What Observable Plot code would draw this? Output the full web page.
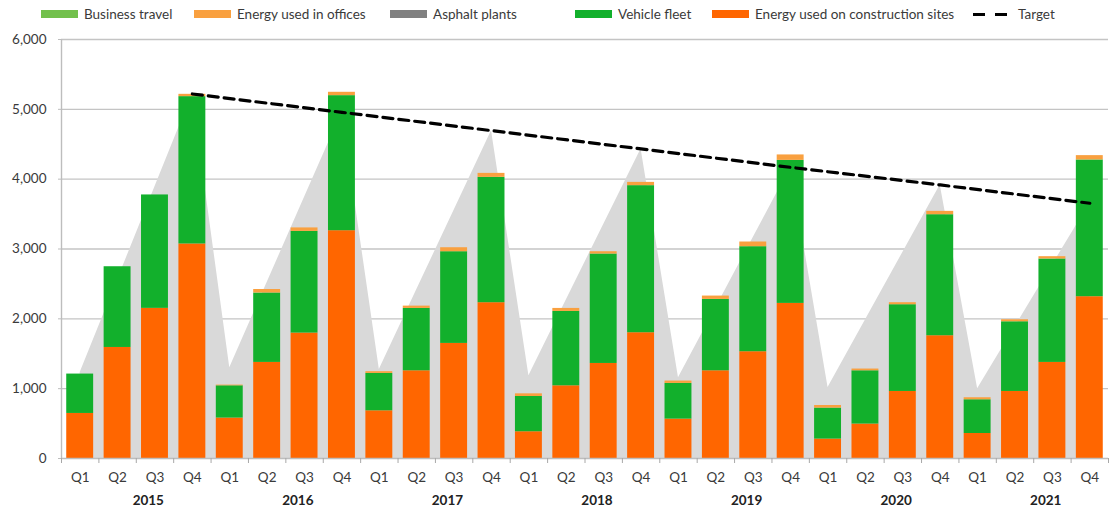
<!DOCTYPE html>
<html>
<head>
<meta charset="utf-8">
<script src="https://cdn.jsdelivr.net/npm/d3@7"></script>
<script src="https://cdn.jsdelivr.net/npm/@observablehq/plot@0.6"></script>
<style>
  body { margin: 0; background: #fff; font-family: Lato, "Open Sans", sans-serif; }
  #legend { position: relative; height: 28px; font-size: 13.5px; color: #3a3a3a; }
  .item { position: absolute; top: 6px; display: flex; align-items: center; white-space: nowrap; }
  .sw { width: 37px; height: 8px; margin-right: 6px; }
  .dash { width: 38px; height: 3px; margin-right: 7px;
          background: repeating-linear-gradient(90deg, #000 0 12px, transparent 12px 22px); }
</style>
</head>
<body>
<div id="legend"></div>
<div id="chart"></div>
<script>
// ---------- data ----------
const years = ["2015", "2016", "2017", "2018", "2019", "2020", "2021"];
const quarters = ["Q1", "Q2", "Q3", "Q4"];
const seriesNames = ["Energy used on construction sites", "Vehicle fleet", "Asphalt plants", "Energy used in offices", "Business travel"];
const seriesColors = ["#ff6600", "#12b02c", "#808080", "#f9a03f", "#72c04c"];

const construction = [645, 1590, 2150, 3072, 579, 1376, 1796, 3262, 683, 1256, 1648, 2231, 383, 1041, 1361, 1801, 564, 1256, 1529, 2221, 278, 493, 960, 1758, 358, 960, 1376, 2317];
const vehicleFleet = [564, 1156, 1624, 2110, 462, 994, 1456, 1934, 535, 893, 1313, 1795, 505, 1065, 1567, 2106, 511, 1022, 1504, 2048, 444, 763, 1242, 1733, 483, 998, 1481, 1958];
const asphaltPlants = [0, 0, 0, 0, 0, 0, 0, 0, 0, 0, 0, 0, 0, 0, 0, 0, 0, 0, 0, 0, 0, 0, 0, 0, 0, 0, 0, 0];
const offices = [0, 0, 0, 33, 10, 50, 50, 48, 25, 33, 57, 57, 38, 43, 33, 47, 34, 48, 67, 78, 37, 25, 29, 48, 29, 29, 33, 62];
const businessTravel = [0, 0, 0, 0, 0, 0, 0, 0, 0, 0, 0, 0, 0, 0, 0, 0, 0, 0, 0, 0, 0, 0, 0, 0, 0, 0, 0, 0];

// cumulative quarterly target trajectory (grey area)
const trajectory = [1230, 2560, 3890, 5220, 1300, 2520, 3740, 4957, 1275, 2415, 3555, 4695, 1185, 2270, 3350, 4433, 1155, 2160, 3165, 4169, 1017, 1985, 2950, 3917, 1000, 1885, 2770, 3655];
// annual target (at Q4 of each year)
const target = [5220, 4957, 4695, 4433, 4169, 3917, 3655];

const yTicks = [0, 1000, 2000, 3000, 4000, 5000, 6000];

// ---------- legend ----------
const legendItems = [
  {name: "Business travel", color: "#72c04c", left: 41},
  {name: "Energy used in offices", color: "#f9a03f", left: 194},
  {name: "Asphalt plants", color: "#808080", left: 390},
  {name: "Vehicle fleet", color: "#12b02c", left: 575},
  {name: "Energy used on construction sites", color: "#ff6600", left: 712},
  {name: "Target", color: null, left: 973}
];
const legend = document.getElementById("legend");
for (const it of legendItems) {
  const d = document.createElement("div");
  d.className = "item";
  d.style.left = it.left + "px";
  const s = document.createElement("div");
  if (it.color) { s.className = "sw"; s.style.background = it.color; }
  else s.className = "dash";
  d.appendChild(s);
  const t = document.createElement("span");
  t.textContent = it.name;
  d.appendChild(t);
  legend.appendChild(d);
}

// ---------- tables ----------
const seriesValues = [construction, vehicleFleet, asphaltPlants, offices, businessTravel];
const idx = d3.range(construction.length);
const rows = [];
for (const i of idx) {
  seriesNames.forEach((name, s) => rows.push({i, series: name, value: seriesValues[s][i]}));
}
const trajRows = idx.map(i => ({i, value: trajectory[i]}));
const targetRows = target.map((v, k) => ({i: k * 4 + 3, value: v}));
const yearRows = years.map((y, k) => ({i: k * 4 + 1.5, label: y}));

const halfBar = 0.36;

const chart = Plot.plot({
  width: 1110,
  height: 480,
  marginTop: 11,
  marginBottom: 50,
  marginLeft: 61,
  marginRight: 2,
  style: {fontFamily: "Lato, 'Open Sans', sans-serif", fontSize: "13px", color: "#3a3a3a", background: "#fff"},
  x: {domain: [-0.5, idx.length - 0.5], axis: null},
  y: {domain: [0, 6000], axis: null},
  color: {domain: seriesNames, range: seriesColors},
  marks: [
    Plot.ruleY(yTicks.slice(1), {stroke: "#c4c4c4", strokeWidth: 1.4}),
    Plot.areaY(trajRows, {x: "i", y: "value", fill: "#d9d9d9"}),
    Plot.rectY(rows, Plot.stackY({
      order: null,
      x1: d => d.i - halfBar,
      x2: d => d.i + halfBar,
      y: "value",
      fill: "series"
    })),
    Plot.ruleY([0], {stroke: "#bdbdbd", strokeWidth: 1.4}),
    Plot.ruleX([-0.5], {y1: 0, y2: 6000, stroke: "#bdbdbd", strokeWidth: 1.4}),
    Plot.axisY({ticks: yTicks, tickFormat: d3.format(","), tickSize: 3, tickPadding: 12, stroke: "#bdbdbd", fontSize: 13.5, label: null}),
    Plot.axisX({ticks: d3.range(-0.5, idx.length, 1), tickFormat: () => "", tickSize: 5, stroke: "#a8a8a8", label: null}),
    Plot.axisX({ticks: idx, tickFormat: i => quarters[i % 4], tickSize: 0, tickPadding: 14, fontSize: 13.5, label: null}),
    Plot.text(yearRows, {x: "i", y: 0, text: "label", dy: 42, dx: 12, fontWeight: "bold", fontSize: 13.5, fill: "#222"}),
    Plot.line(targetRows, {x: "i", y: "value", stroke: "#000", strokeWidth: 3.2, strokeDasharray: "10,6"})
  ]
});
document.getElementById("chart").appendChild(chart);
</script>
</body>
</html>
